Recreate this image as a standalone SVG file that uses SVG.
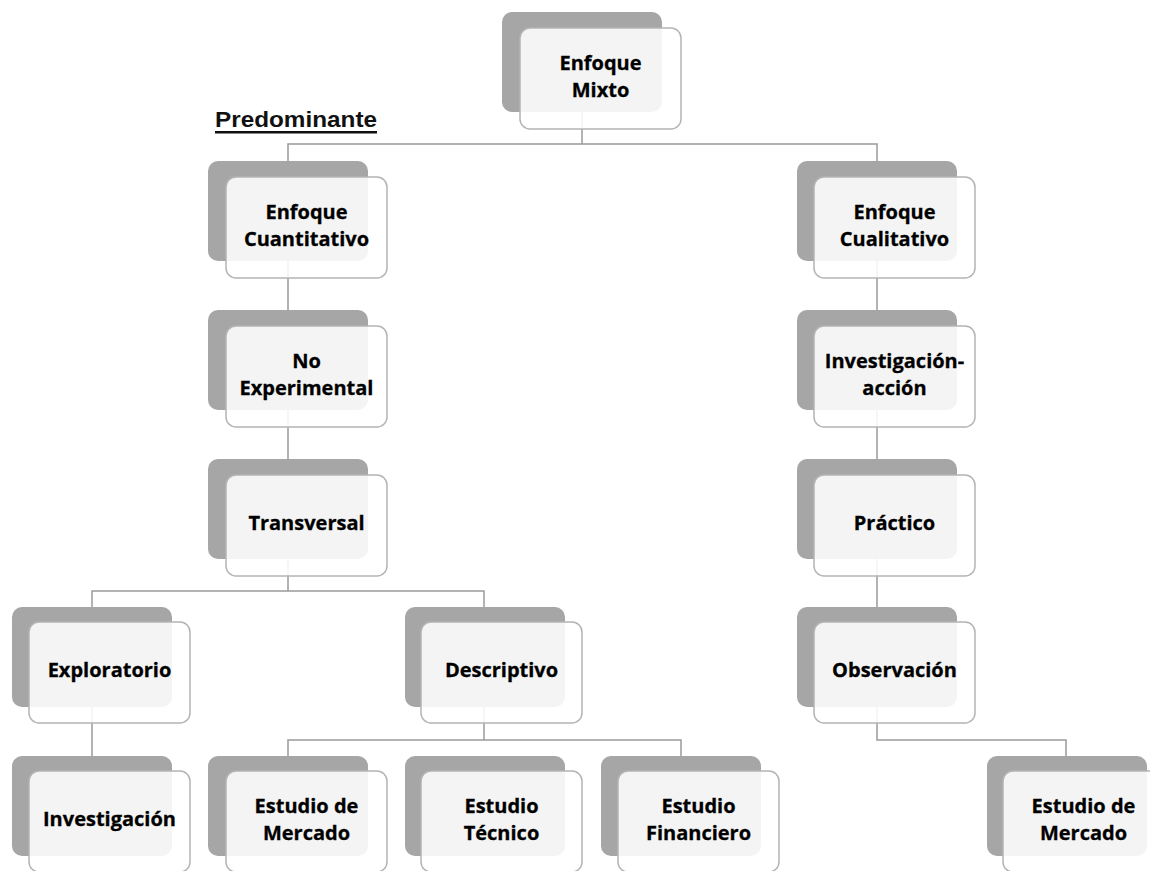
<svg xmlns="http://www.w3.org/2000/svg" width="1150" height="871" viewBox="0 0 1150 871">
<style>
.bg{fill:#a6a6a6}
.fr{fill:#ffffff;fill-opacity:0.88;stroke:#b4b4b4;stroke-width:1.5}
.t{font-family:"Open Sans","Liberation Sans",sans-serif;font-weight:bold;font-size:20px;fill:#000000;text-anchor:middle;stroke:#000000;stroke-width:0.3}
.c{fill:none;stroke:#9a9a9a;stroke-width:1.5}
</style>
<rect width="1150" height="871" fill="#ffffff"/>
<g id="shadows">
<rect class="bg" x="502" y="12" width="160" height="100" rx="10"/>
<rect class="bg" x="208" y="161" width="160" height="100" rx="10"/>
<rect class="bg" x="797" y="161" width="160" height="100" rx="10"/>
<rect class="bg" x="208" y="310" width="160" height="100" rx="10"/>
<rect class="bg" x="797" y="310" width="160" height="100" rx="10"/>
<rect class="bg" x="208" y="459" width="160" height="100" rx="10"/>
<rect class="bg" x="797" y="459" width="160" height="100" rx="10"/>
<rect class="bg" x="12" y="607" width="160" height="100" rx="10"/>
<rect class="bg" x="405" y="607" width="160" height="100" rx="10"/>
<rect class="bg" x="797" y="607" width="160" height="100" rx="10"/>
<rect class="bg" x="12" y="756" width="160" height="100" rx="10"/>
<rect class="bg" x="208" y="756" width="160" height="100" rx="10"/>
<rect class="bg" x="405" y="756" width="160" height="100" rx="10"/>
<rect class="bg" x="601" y="756" width="160" height="100" rx="10"/>
<rect class="bg" x="987" y="756" width="160" height="100" rx="10"/>
</g>
<g id="connectors">
<path class="c" d="M582,112 V144 M288,161 V144 H877 V161"/>
<path class="c" d="M288,261 V310 M288,410 V459"/>
<path class="c" d="M288,559 V591 M92,607 V591 H484 V607"/>
<path class="c" d="M92,707 V756"/>
<path class="c" d="M484,707 V740 M288,756 V740 H681 V756"/>
<path class="c" d="M877,260 V310 M877,410 V459 M877,559 V607"/>
<path class="c" d="M877,707 V740 H1066 V756"/>
</g>
<g id="n-mixto"><rect class="fr" x="520" y="28" width="161" height="101" rx="10"/><text class="t" x="600.5" y="70">Enfoque</text><text class="t" x="600.5" y="97">Mixto</text></g>
<g id="n-cuantitativo"><rect class="fr" x="226" y="177" width="161" height="101" rx="10"/><text class="t" x="306.5" y="219">Enfoque</text><text class="t" x="306.5" y="246">Cuantitativo</text></g>
<g id="n-cualitativo"><rect class="fr" x="814" y="177" width="161" height="101" rx="10"/><text class="t" x="894.5" y="219">Enfoque</text><text class="t" x="894.5" y="246">Cualitativo</text></g>
<g id="n-noexp"><rect class="fr" x="226" y="326" width="161" height="101" rx="10"/><text class="t" x="306.5" y="368">No</text><text class="t" x="306.5" y="395">Experimental</text></g>
<g id="n-invaccion"><rect class="fr" x="814" y="326" width="161" height="101" rx="10"/><text class="t" x="894.5" y="368">Investigación-</text><text class="t" x="894.5" y="395">acción</text></g>
<g id="n-transversal"><rect class="fr" x="226" y="475" width="161" height="101" rx="10"/><text class="t" x="306.5" y="530">Transversal</text></g>
<g id="n-practico"><rect class="fr" x="814" y="475" width="161" height="101" rx="10"/><text class="t" x="894.5" y="530">Práctico</text></g>
<g id="n-exploratorio"><rect class="fr" x="29" y="622" width="161" height="101" rx="10"/><text class="t" x="109.5" y="677">Exploratorio</text></g>
<g id="n-descriptivo"><rect class="fr" x="421" y="622" width="161" height="101" rx="10"/><text class="t" x="501.5" y="677">Descriptivo</text></g>
<g id="n-observacion"><rect class="fr" x="814" y="622" width="161" height="101" rx="10"/><text class="t" x="894.5" y="677">Observación</text></g>
<g id="n-investigacion"><rect class="fr" x="29" y="771" width="161" height="101" rx="10"/><text class="t" x="109.5" y="826">Investigación</text></g>
<g id="n-mercado1"><rect class="fr" x="226" y="771" width="161" height="101" rx="10"/><text class="t" x="306.5" y="813">Estudio de</text><text class="t" x="306.5" y="840">Mercado</text></g>
<g id="n-tecnico"><rect class="fr" x="421" y="771" width="161" height="101" rx="10"/><text class="t" x="501.5" y="813">Estudio</text><text class="t" x="501.5" y="840">Técnico</text></g>
<g id="n-financiero"><rect class="fr" x="618" y="771" width="161" height="101" rx="10"/><text class="t" x="698.5" y="813">Estudio</text><text class="t" x="698.5" y="840">Financiero</text></g>
<g id="n-mercado2"><rect class="fr" x="1003" y="771" width="161" height="101" rx="10"/><text class="t" x="1083.5" y="813">Estudio de</text><text class="t" x="1083.5" y="840">Mercado</text></g>
<g id="label-predominante">
<text x="215" y="127" font-family="Liberation Sans, Arial, sans-serif" font-weight="bold" font-size="22" fill="#111111" textLength="162" lengthAdjust="spacingAndGlyphs">Predominante</text>
<rect x="215" y="131" width="162" height="2.5" fill="#111111"/>
</g>
</svg>
